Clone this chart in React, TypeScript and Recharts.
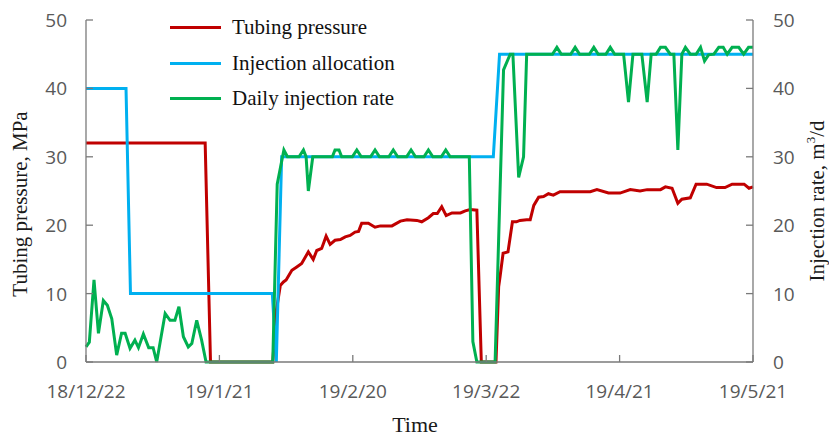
import React from "react";
import { LineChart, Line, XAxis, YAxis, Legend, Label } from "recharts";

// days counted from 2018-12-22
const xTicks = [0, 30, 60, 90, 120, 150];
const xTickLabels = ["18/12/22", "19/1/21", "19/2/20", "19/3/22", "19/4/21", "19/5/21"];
const yTicks = [0, 10, 20, 30, 40, 50];

const seriesNames = ["Tubing pressure", "Injection allocation", "Daily injection rate"];
const seriesColors = ["#C00000", "#00B0F0", "#00B050"];

const tubingDays = [
  0, 26.8, 28, 42, 42.8, 43.7, 44.4, 45, 46.3, 47.4, 48.5, 50, 51.1, 51.9, 53, 54, 54.9, 56, 57.2,
  58.3, 59.4, 60.5, 61.3, 62, 63.5, 65, 66.2, 68.8, 70.7, 72.2, 74.4, 75.5, 77, 78.1, 79, 80, 81,
  82.3, 84.2, 85.3, 86.4, 87.9, 88.9, 92.2, 92.8, 93.1, 93.8, 94.9, 95.9, 96.8, 97.6, 99.1, 99.9,
  100.7, 101.8, 102.9, 104, 105.1, 106.6, 113.4, 114.9, 117.5, 120.1, 122.4, 124.6, 126.2, 129.2,
  130.3, 131.8, 133.1, 134, 135.9, 137.2, 139.6, 141.8, 143.7, 145.3, 148, 149.1, 150,
];
const tubingValues = [
  32, 32, 0, 0, 7.5, 11.2, 11.7, 12, 13.4, 13.9, 14.4, 16.1, 15.0, 16.3, 16.6, 18.4, 17.2, 17.8, 17.9,
  18.3, 18.5, 19.0, 19.1, 20.3, 20.3, 19.7, 19.9, 19.9, 20.6, 20.8, 20.7, 20.5, 21.1, 21.7, 21.7, 22.7, 21.4,
  21.8, 21.8, 22.1, 22.3, 22.2, 0, 0, 11, 12.4, 15.9, 16.1, 20.5, 20.5, 20.7, 20.8, 20.8,
  22.9, 24.1, 24.2, 24.6, 24.4, 24.9, 24.9, 25.2, 24.7, 24.7, 25.2, 25.0, 25.2, 25.2,
  25.6, 25.4, 23.2, 23.8, 24.0, 26.0, 26.0, 25.5, 25.5, 26.0, 26.0, 25.4, 25.6,
];

const allocDays = [0, 9, 10, 41.9, 42.8, 44, 91.6, 93, 150];
const allocValues = [40, 40, 10, 10, 0, 30, 30, 45, 45];

const rateDays = [
  0, 0.75, 1.8, 2.8, 3.9, 4.8, 5.8, 6.9, 8, 8.8, 9.9, 11, 11.8, 12.9, 14.1, 15.1, 15.9, 17.8, 18.9,
  20, 20.9, 21.9, 23, 23.8, 24.9, 26, 27, 42, 43, 44.5, 45.3, 47.9, 48.9, 49.5, 50, 51, 55.4, 56,
  56.9, 57.5, 59.9, 60.9, 61.9, 64, 65, 66, 68.1, 69.1, 70.1, 72.1, 73.1, 74.1, 76, 77, 78, 79.9,
  80.9, 81.9, 86.2, 87, 87.9, 92, 93.9, 95.4, 96, 97.3, 98.4, 99.1, 104.9, 105.9, 106.9, 109, 110,
  111, 113.2, 114.2, 115.2, 116.9, 117.9, 118.9, 120.9, 122, 123, 125, 126.2, 127.1, 128.2, 129.2,
  130.3, 131.4, 132.2, 133.1, 134, 134.8, 135.9, 137.2, 138.2, 139.1, 140, 141.2, 142.3, 143.3,
  144.2, 145.3, 146.8, 147.9, 149, 150,
];
const rateValues = [
  2.2, 2.9, 12, 4.2, 9, 8.3, 6.3, 1, 4.2, 4.2, 2, 3.2, 2.1, 4.1, 2.1, 2.1, 0, 7.1, 6.1,
  6.1, 8.1, 3.7, 2.2, 2.7, 6.1, 3.2, 0, 0, 26, 31, 30, 30, 31, 30, 25, 30, 30, 31,
  31, 30, 30, 31, 30, 30, 31, 30, 30, 31, 30, 30, 31, 30, 30, 31, 30, 30,
  31, 30, 30, 3, 0, 0, 42.7, 45, 45, 27, 30, 45, 45, 46, 45, 45, 46,
  45, 45, 46, 45, 45, 46, 45, 45, 38, 45, 45, 38, 45, 45, 46,
  46, 45, 45, 31, 45, 46, 45, 45, 46, 44, 44.9, 45, 46, 46,
  45, 46, 46, 45, 46, 46,
];

const toPoints = (days: number[], values: number[]) =>
  days.map((d, i) => ({ d, v: values[i] }));

const tubingData = toPoints(tubingDays, tubingValues);
const allocData = toPoints(allocDays, allocValues);
const rateData = toPoints(rateDays, rateValues);

const AXIS = "#7a7a7a";
const TICK_FONT = "'Open Sans', sans-serif";
const SERIF = "'Liberation Serif', 'Times New Roman', serif";

const LeftTick = ({ x, y, payload }: any) => (
  <g>
    <line x1={x} y1={y} x2={x + 7} y2={y} stroke={AXIS} strokeWidth={1.3} />
    <text x={x - 19} y={y} dy={7} textAnchor="end" fontFamily={TICK_FONT} fontSize={19} fill="#595959">
      {payload.value}
    </text>
  </g>
);

const RightTick = ({ x, y, payload }: any) => (
  <g>
    <line x1={x} y1={y} x2={x - 7} y2={y} stroke={AXIS} strokeWidth={1.3} />
    <text x={x + 20} y={y} dy={7} textAnchor="start" fontFamily={TICK_FONT} fontSize={19} fill="#595959">
      {payload.value}
    </text>
  </g>
);

const BottomTick = ({ x, y, payload }: any) => (
  <g>
    <line x1={x} y1={y} x2={x} y2={y - 7} stroke={AXIS} strokeWidth={1.3} />
    <text x={x} y={y + 36} textAnchor="middle" fontFamily={TICK_FONT} fontSize={19} fill="#595959">
      {xTickLabels[xTicks.indexOf(payload.value)]}
    </text>
  </g>
);

const LeftTitle = ({ viewBox }: any) => {
  const cx = 20;
  const cy = viewBox.y + viewBox.height / 2 + 13;
  return (
    <text x={cx} y={cy} transform={`rotate(-90 ${cx} ${cy})`} textAnchor="middle" dominantBaseline="central"
      fontFamily={SERIF} fontSize={21} fill="#1a1a1a">
      Tubing pressure, MPa
    </text>
  );
};

const RightTitle = ({ viewBox }: any) => {
  const cx = 817;
  const cy = viewBox.y + viewBox.height / 2 + 10;
  return (
    <text x={cx} y={cy} transform={`rotate(-90 ${cx} ${cy})`} textAnchor="middle" dominantBaseline="central"
      fontFamily={SERIF} fontSize={21} fill="#1a1a1a">
      <tspan>Injection rate, m</tspan>
      <tspan dy={-7} fontSize={13}>3</tspan>
      <tspan dy={7}>/d</tspan>
    </text>
  );
};

const BottomTitle = () => (
  <text x={415} y={432} textAnchor="middle" fontFamily={SERIF} fontSize={22} fill="#1a1a1a">
    Time
  </text>
);

const LegendBox = () => (
  <div style={{ fontFamily: SERIF, fontSize: 21, color: "#111" }}>
    {seriesNames.map((name, i) => (
      <div key={name} style={{ display: "flex", alignItems: "center", height: 35.5 }}>
        <span style={{ display: "inline-block", width: 51, height: 3, background: seriesColors[i], marginRight: 11 }} />
        <span>{name}</span>
      </div>
    ))}
  </div>
);

export default function App() {
  return (
    <div style={{ position: "absolute", left: 0, top: 0, background: "#fff" }}>
      <LineChart width={829} height={436} margin={{ top: 20, right: 0, left: 0, bottom: 34 }}>
        <XAxis
          type="number"
          dataKey="d"
          domain={[0, 150]}
          ticks={xTicks}
          interval={0}
          height={40}
          tickSize={0}
          tickMargin={0}
          tick={<BottomTick />}
          axisLine={{ stroke: AXIS, strokeWidth: 1.3 }}
          tickLine={false}
        >
          <Label content={BottomTitle} />
        </XAxis>
        <YAxis
          yAxisId="left"
          domain={[0, 50]}
          ticks={yTicks}
          interval={0}
          width={86}
          tickSize={0}
          tickMargin={0}
          tick={<LeftTick />}
          axisLine={{ stroke: AXIS, strokeWidth: 1.3 }}
          tickLine={false}
        >
          <Label content={LeftTitle} />
        </YAxis>
        <YAxis
          yAxisId="right"
          orientation="right"
          domain={[0, 50]}
          ticks={yTicks}
          interval={0}
          width={76}
          tickSize={0}
          tickMargin={0}
          tick={<RightTick />}
          axisLine={{ stroke: AXIS, strokeWidth: 1.3 }}
          tickLine={false}
        >
          <Label content={RightTitle} />
        </YAxis>
        <Legend
          layout="vertical"
          verticalAlign="middle"
          align="center"
          content={<LegendBox />}
          wrapperStyle={{ position: "absolute", left: 170, top: 10, width: 260 }}
        />
        <Line
          yAxisId="left"
          data={tubingData}
          dataKey="v"
          name={seriesNames[0]}
          type="linear"
          stroke={seriesColors[0]}
          strokeWidth={3}
          dot={false}
          isAnimationActive={false}
        />
        <Line
          yAxisId="right"
          data={allocData}
          dataKey="v"
          name={seriesNames[1]}
          type="linear"
          stroke={seriesColors[1]}
          strokeWidth={3}
          dot={false}
          isAnimationActive={false}
        />
        <Line
          yAxisId="right"
          data={rateData}
          dataKey="v"
          name={seriesNames[2]}
          type="linear"
          stroke={seriesColors[2]}
          strokeWidth={3}
          dot={false}
          isAnimationActive={false}
        />
      </LineChart>
    </div>
  );
}
